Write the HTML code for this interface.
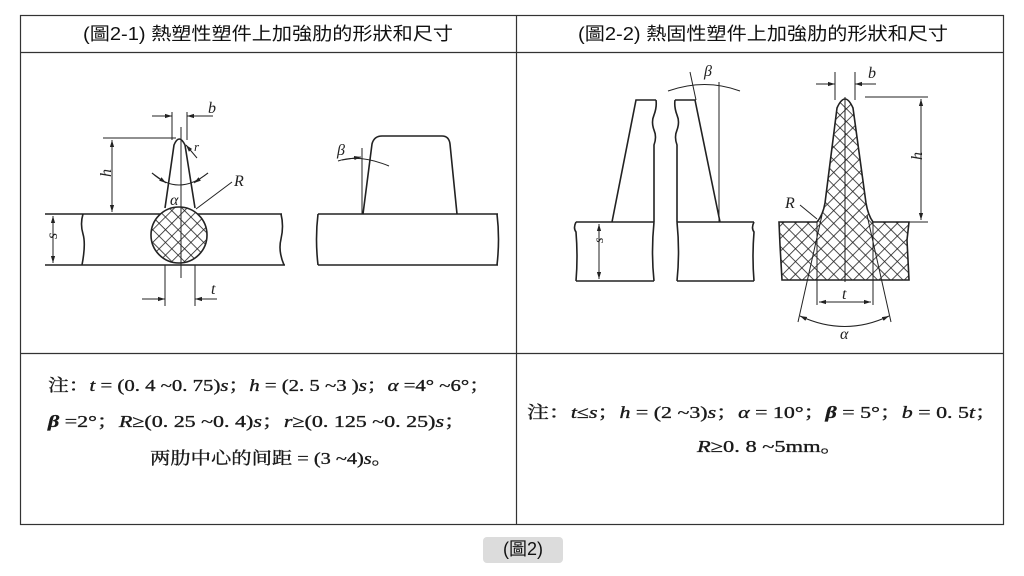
<!DOCTYPE html>
<html><head><meta charset="utf-8"><style>
html,body{margin:0;padding:0;background:#fff;width:1024px;height:576px;overflow:hidden}
svg{display:block}
.hd{font-family:"Liberation Sans","Noto Sans CJK TC",sans-serif;font-size:18px;fill:#111}
.nt{font-family:"Liberation Serif","Noto Serif CJK SC",serif;font-size:17px;fill:#1a1a1a;stroke:#1a1a1a;stroke-width:0.35}
.lb{font-family:"Liberation Serif",serif;font-style:italic;font-size:16px;fill:#222}
</style></head><body>
<svg width="1024" height="576" viewBox="0 0 1024 576" xmlns="http://www.w3.org/2000/svg">
<defs>
<pattern id="h" width="9" height="9" patternUnits="userSpaceOnUse" patternTransform="rotate(45)">
<rect width="9" height="9" fill="#fff"/>
<line x1="0" y1="0" x2="0" y2="9" stroke="#222" stroke-width="1.6"/>
<line x1="0" y1="0" x2="9" y2="0" stroke="#222" stroke-width="1.6"/>
</pattern>
<marker id="a" viewBox="0 0 10 10" refX="10" refY="5" markerWidth="7" markerHeight="7" orient="auto-start-reverse"><path d="M0,2L10,5L0,8z" fill="#222"/></marker>
</defs>
<g stroke="#333" stroke-width="1.2" fill="none">
<rect x="20.5" y="15.5" width="983" height="509"/>
<line x1="20" y1="52.5" x2="1004" y2="52.5"/>
<line x1="20" y1="353.5" x2="1004" y2="353.5"/>
<line x1="516.5" y1="15" x2="516.5" y2="525"/>
</g>
<text class="hd" x="83" y="40" textLength="370" lengthAdjust="spacingAndGlyphs">(圖2-1)  熱塑性塑件上加強肋的形狀和尺寸</text>
<text class="hd" x="578" y="40" textLength="370" lengthAdjust="spacingAndGlyphs">(圖2-2)  熱固性塑件上加強肋的形狀和尺寸</text>

<g stroke="#222" stroke-width="1.6" fill="none">
<line x1="45" y1="214" x2="282" y2="214"/>
<line x1="45" y1="265" x2="285" y2="265"/>
<path d="M83,214 q-3,10 0,20 q3,10 -1,31"/>
<path d="M281,214 q3,12 0,25 q-3,12 3,26"/>
<circle cx="179" cy="235" r="28" fill="url(#h)"/>
<path d="M165,208 L174,145 Q179,133 185,145 L195,208"/>
<line x1="181" y1="127" x2="181" y2="278" stroke-width="1"/>
<line x1="103" y1="138" x2="176" y2="138" stroke-width="1"/>
<line x1="112" y1="140" x2="112" y2="212" stroke-width="1" marker-start="url(#a)" marker-end="url(#a)"/>
<line x1="172" y1="112" x2="172" y2="140" stroke-width="1"/>
<line x1="187" y1="112" x2="187" y2="140" stroke-width="1"/>
<line x1="152" y1="116" x2="172" y2="116" stroke-width="1" marker-end="url(#a)"/>
<line x1="213" y1="116" x2="187" y2="116" stroke-width="1" marker-end="url(#a)"/>
<line x1="197" y1="158" x2="186" y2="145" stroke-width="1" marker-end="url(#a)"/>
<path d="M152,173 Q178,197 208,173" stroke-width="1"/>
<line x1="152" y1="173" x2="166" y2="183" stroke-width="1" marker-end="url(#a)"/>
<line x1="208" y1="173" x2="194" y2="183" stroke-width="1" marker-end="url(#a)"/>
<line x1="232" y1="182" x2="196" y2="209" stroke-width="1"/>
<line x1="53" y1="216" x2="53" y2="263" stroke-width="1" marker-start="url(#a)" marker-end="url(#a)"/>
<line x1="165" y1="265" x2="165" y2="306" stroke-width="1"/>
<line x1="195" y1="265" x2="195" y2="306" stroke-width="1"/>
<line x1="142" y1="299" x2="165" y2="299" stroke-width="1" marker-end="url(#a)"/>
<line x1="217" y1="299" x2="195" y2="299" stroke-width="1" marker-end="url(#a)"/>
<line x1="318" y1="214" x2="498" y2="214"/>
<line x1="318" y1="265" x2="498" y2="265"/>
<path d="M318,214 q-3,25 0,51"/>
<path d="M497,214 q3,25 0,51"/>
<path d="M363,214 L372,144 Q374,136 382,136 L442,136 Q449,136 450,144 L457,214"/>
<line x1="362" y1="148" x2="362" y2="214" stroke-width="1"/>
<path d="M338,161 Q360,154 389,166" stroke-width="1"/>
<line x1="342" y1="160" x2="361" y2="157" stroke-width="1" marker-end="url(#a)"/>
<path d="M576,222 L654,222 M576,281 L654,281"/>
<path d="M576,222 q-3,6 0,10 q2,25 0,49"/>
<path d="M654,222 q-3,30 0,59"/>
<path d="M677,222 L754,222 M677,281 L754,281"/>
<path d="M677,222 q3,30 0,59"/>
<path d="M754,222 q-3,6 0,10 q-2,25 0,49"/>
<line x1="599" y1="224" x2="599" y2="279" stroke-width="1" marker-start="url(#a)" marker-end="url(#a)"/>
<path d="M612,222 L636,100 L656,100 M654,222 L654,145 q3,-8 0,-15 q-3,-8 0,-15 q3,-8 2,-15"/>
<path d="M720,222 L695,100 L675,100 M677,222 L677,145 q-3,-8 0,-15 q3,-8 0,-15 q-3,-8 -2,-15"/>
<line x1="719" y1="82" x2="719" y2="222" stroke-width="1"/>
<line x1="690" y1="72" x2="696" y2="100" stroke-width="1"/>
<path d="M668,91 Q705,78 740,91" stroke-width="1"/>
<path d="M779,222 L817,222 Q823,215 825,203 L837,108 Q845,90 853,108 L866,203 Q868,215 873,222 L909,222 L907,240 L909,280 L782,280 L780,245 Z" fill="url(#h)"/>
<line x1="845" y1="97" x2="845" y2="282" stroke-width="1"/>
<line x1="865" y1="97" x2="928" y2="97" stroke-width="1"/>
<line x1="873" y1="222" x2="928" y2="222" stroke-width="1"/>
<line x1="921" y1="99" x2="921" y2="220" stroke-width="1" marker-start="url(#a)" marker-end="url(#a)"/>
<line x1="835" y1="72" x2="835" y2="100" stroke-width="1"/>
<line x1="855" y1="72" x2="855" y2="100" stroke-width="1"/>
<line x1="816" y1="84" x2="835" y2="84" stroke-width="1" marker-end="url(#a)"/>
<line x1="876" y1="84" x2="855" y2="84" stroke-width="1" marker-end="url(#a)"/>
<line x1="817" y1="222" x2="817" y2="305" stroke-width="1"/>
<line x1="873" y1="222" x2="873" y2="305" stroke-width="1"/>
<line x1="819" y1="302" x2="871" y2="302" stroke-width="1" marker-start="url(#a)" marker-end="url(#a)"/>
<line x1="822" y1="215" x2="798" y2="322" stroke-width="1"/>
<line x1="867" y1="215" x2="891" y2="322" stroke-width="1"/>
<path d="M800,316 Q845,337 889,316" stroke-width="1" marker-start="url(#a)" marker-end="url(#a)"/>
<line x1="800" y1="205" x2="817" y2="219" stroke-width="1"/>
</g>
<g class="lb">
<text x="208" y="113">b</text>
<text x="194" y="151" font-size="13">r</text>
<text x="170" y="205">α</text>
<text x="234" y="186">R</text>
<text x="106" y="182" transform="rotate(-90 106 177)">h</text>
<text x="52" y="244" transform="rotate(-90 52 239)">s</text>
<text x="211" y="294">t</text>
<text x="337" y="155">β</text>
<text x="704" y="76">β</text>
<text x="602" y="252" transform="rotate(-90 598 247)" font-size="14">s</text>
<text x="868" y="78">b</text>
<text x="918" y="164" transform="rotate(-90 918 160)">h</text>
<text x="785" y="208">R</text>
<text x="842" y="299">t</text>
<text x="840" y="339">α</text>
</g>
<g class="nt">
<text x="48" y="391" textLength="442" lengthAdjust="spacingAndGlyphs">注：<tspan font-style="italic">t</tspan> = (0. 4 ~0. 75)<tspan font-style="italic">s</tspan>；<tspan font-style="italic">h</tspan> = (2. 5 ~3 )<tspan font-style="italic">s</tspan>；<tspan font-style="italic">α</tspan> =4° ~6°；</text>
<text x="48" y="427" textLength="418" lengthAdjust="spacingAndGlyphs"><tspan font-style="italic" font-weight="bold">β</tspan> =2°；<tspan font-style="italic">R</tspan>≥(0. 25 ~0. 4)<tspan font-style="italic">s</tspan>；<tspan font-style="italic">r</tspan>≥(0. 125 ~0. 25)<tspan font-style="italic">s</tspan>；</text>
<text x="150" y="464" textLength="242" lengthAdjust="spacingAndGlyphs">两肋中心的间距 = (3 ~4)<tspan font-style="italic">s</tspan>。</text>
<text x="527" y="418" textLength="470" lengthAdjust="spacingAndGlyphs">注：<tspan font-style="italic">t</tspan>≤<tspan font-style="italic">s</tspan>；<tspan font-style="italic">h</tspan> = (2 ~3)<tspan font-style="italic">s</tspan>；<tspan font-style="italic">α</tspan> = 10°；<tspan font-style="italic" font-weight="bold">β</tspan> = 5°；<tspan font-style="italic">b</tspan> = 0. 5<tspan font-style="italic">t</tspan>；</text>
<text x="697" y="452" textLength="146" lengthAdjust="spacingAndGlyphs"><tspan font-style="italic">R</tspan>≥0. 8 ~5mm。</text>
</g>
<rect x="483" y="537" width="80" height="26" rx="4" fill="#dcdcdc"/>
<text x="523" y="555" text-anchor="middle" class="hd" font-size="14">(圖2)</text>
</svg>
</body></html>
